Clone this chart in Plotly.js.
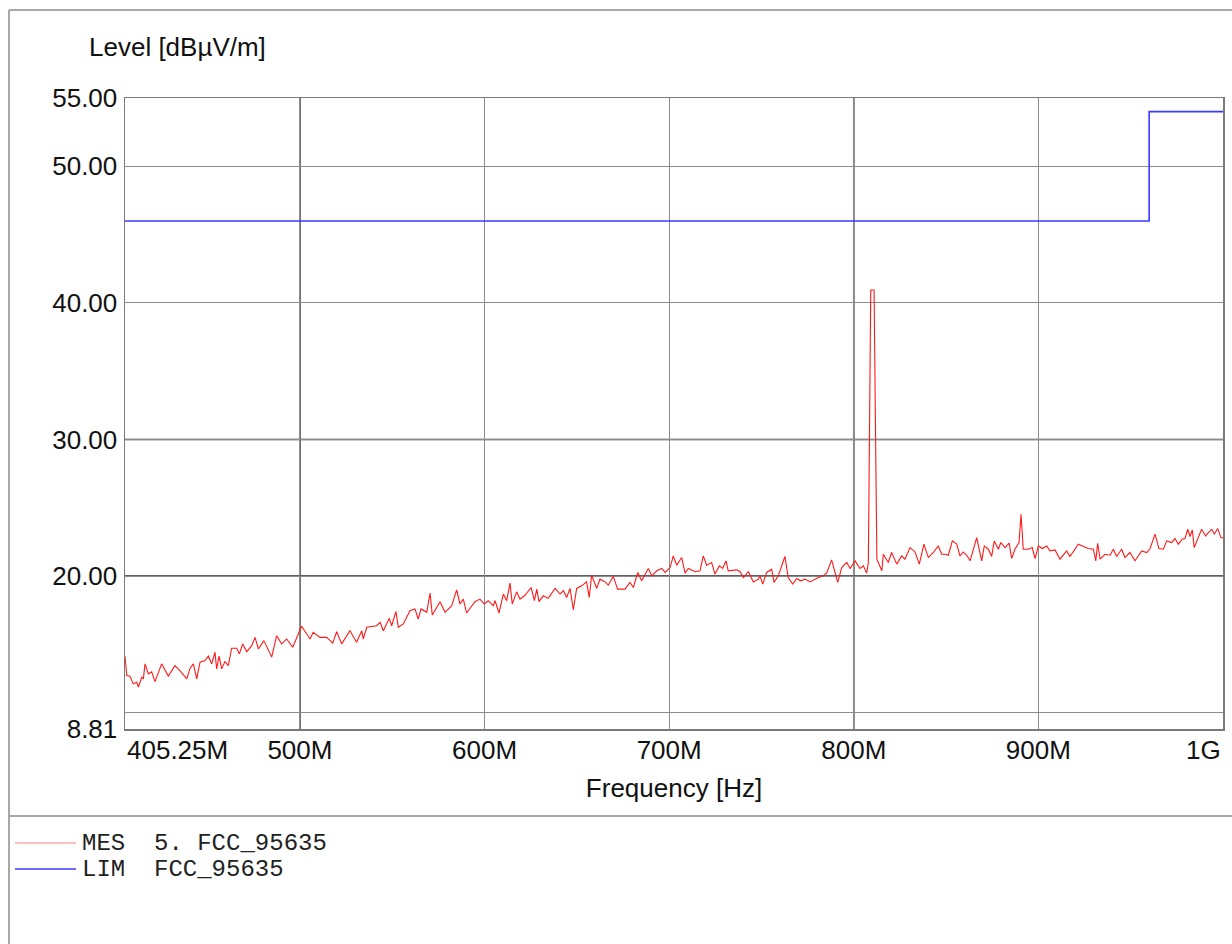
<!DOCTYPE html>
<html>
<head>
<meta charset="utf-8">
<script src="https://cdn.plot.ly/plotly-3.0.1.min.js"></script>
<style>html,body{margin:0;padding:0;background:#fff;}</style>
</head>
<body>
<div id="chart" style="width:1232px;height:944px;"></div>
<script>
// ---- data (frequency in MHz, level in dBµV/m) ----
const mesFreq = [405.25,406.2,407.9,409.7,411.6,412.5,414.3,415.2,416.1,417.9,419.7,421.5,425.1,428.7,432.3,435.0,438.7,440.5,442.3,444.1,445.9,448.6,450.4,452.2,454.0,454.9,456.2,457.6,459.4,461.2,463.0,465.8,467.2,469.0,471.2,473.9,475.7,477.5,480.5,484.7,487.4,490.1,492.8,496.1,500.9,505.5,507.2,510.9,514.5,517.8,519.9,522.6,527.1,530.7,533.5,534.3,536.2,541.6,543.4,545.2,548.4,549.7,552.0,553.3,
556.0,559.6,562.3,564.1,565.6,568.7,570.5,571.7,575.9,578.6,582.2,584.9,586.7,588.5,590.3,594.8,597.5,599.9,602.0,604.7,605.7,607.8,610.2,612.0,613.8,615.0,617.4,619.2,621.9,625.2,627.0,628.3,629.5,631.8,634.5,638.2,640.9,642.7,644.5,646.3,648.1,649.9,652.6,655.3,656.7,658.0,660.8,662.5,665.3,667.0,669.7,672.1,676.1,678.8,680.6,683.0,685.1,688.7,690.6,693.3,696.0,697.8,700.5,702.2,
704.1,706.8,708.6,710.4,714.0,716.7,718.5,720.3,723.0,724.8,727.2,729.0,730.8,732.0,736.6,738.4,740.2,742.9,745.6,748.3,749.2,750.7,752.8,755.5,756.8,759.1,762.7,764.5,766.9,769.1,771.2,773.6,776.3,779.0,780.8,783.5,785.3,788.0,789.8,791.3,793.5,796.2,798.0,800.7,803.4,805.2,807.0,807.9,809.2,811.0,812.5,815.2,816.0,818.7,820.5,823.3,825.9,827.7,830.5,833.2,835.5,838.0,840.4,843.1,845.8,847.6,
849.4,851.2,853.4,855.8,857.5,859.3,861.2,863.0,866.6,869.3,870.7,872.9,874.7,876.1,878.3,879.7,881.9,884.2,885.5,887.3,889.5,890.6,891.8,894.5,896.7,898.2,900.0,902.1,904.5,906.3,909.0,911.7,915.3,917.1,921.6,924.3,927.0,929.8,931.1,932.1,933.4,936.1,938.8,940.6,942.4,945.1,946.9,949.6,952.3,956.0,958.7,960.5,963.2,965.3,967.7,969.5,972.2,974.0,975.8,977.9,979.4,980.9,982.1,983.4,984.4,986.6,988.4,990.6,992.0,993.9,995.3,997.1,998.9,1000.0];
const mesLevel = [14.14,12.72,12.68,12.12,12.24,11.88,12.60,12.48,13.58,12.85,13.00,12.28,13.58,12.68,13.45,13.09,12.48,13.26,13.58,12.48,13.70,13.82,14.14,13.58,14.43,13.21,14.14,13.21,13.75,13.45,14.72,14.72,14.31,15.04,14.47,14.91,15.52,14.67,15.28,14.07,15.64,15.04,15.40,14.80,16.33,15.40,15.89,15.52,15.52,15.10,15.93,15.04,16.00,15.16,16.00,15.40,16.26,16.37,16.62,16.00,16.91,16.37,17.40,16.26,
16.50,17.47,17.60,16.86,17.60,17.35,18.76,17.15,18.13,17.35,17.84,19.00,17.96,18.32,17.30,18.13,18.32,17.96,18.20,17.84,18.20,17.30,18.69,18.20,19.49,17.96,18.85,18.32,18.60,19.17,18.20,19.05,18.13,18.56,18.37,19.10,18.69,18.93,18.44,19.10,17.54,19.10,19.29,19.58,18.44,20.07,19.10,19.78,19.58,19.34,19.98,19.05,19.05,19.54,19.17,20.27,19.66,20.56,20.02,20.39,20.56,20.27,20.63,21.48,
20.80,21.36,20.22,20.56,20.32,20.39,21.48,20.80,21.00,20.15,20.75,20.56,21.12,20.39,20.46,20.32,19.90,20.32,19.58,19.78,20.02,19.42,20.27,20.51,19.54,20.02,21.44,19.90,19.42,19.83,19.66,19.78,19.58,19.78,19.90,20.02,20.22,21.19,20.27,19.54,20.63,21.00,20.56,21.12,20.56,20.75,20.22,21.00,40.95,40.95,21.24,20.39,21.60,21.00,21.73,20.88,21.48,21.24,22.09,21.77,20.88,22.34,21.36,21.73,22.21,21.60,
21.60,21.53,22.58,22.34,21.48,21.77,21.53,21.12,22.82,21.12,22.21,21.97,21.44,22.58,21.97,22.46,22.09,22.41,21.29,21.97,22.46,24.53,21.97,21.97,22.09,21.29,22.21,22.02,22.21,21.85,21.92,21.24,21.85,21.44,22.34,22.17,22.02,21.97,21.12,22.41,21.24,21.60,21.53,21.97,21.44,21.97,21.36,21.73,21.12,21.85,21.73,22.02,23.07,22.02,21.97,22.58,22.46,22.75,22.34,22.70,22.75,23.43,22.90,23.38,22.09,22.82,23.43,22.94,23.19,23.43,23.07,23.48,22.82,22.80];

const limFreq = [405.25, 960, 1000];
const limLevel = [46.0, 54.0, 54.0];

const xTickVals = [405.25, 500, 600, 700, 800, 900, 1000];
const xTickText = ['', '500M', '600M', '700M', '800M', '900M', ''];
const xEdgeLabels = ['405.25M', '1G'];
const yTickVals = [8.81, 10, 20, 30, 40, 50, 55];
const yTickText = ['8.81', '', '20.00', '30.00', '40.00', '50.00', '55.00'];
const darkX = [500, 800];
const darkY = [20, 30];

const mesName = 'MES\u00a0\u00a05.\u00a0FCC_95635';
const limName = 'LIM\u00a0\u00a0FCC_95635';

// ---- layout helpers (pixel -> paper) ----
const W = 1232, H = 944, ML = 125, MR = 9, MT = 98, MB = 215;
const PW = W - ML - MR, PH = H - MT - MB;
const px = x => (x - ML) / PW;
const py = y => (H - MB - y) / PH;

const sans = 'Liberation Sans, Arial, sans-serif';
const mono = 'Liberation Mono, Courier New, monospace';
const FS = 26;

const traces = [
  {x: mesFreq, y: mesLevel, type: 'scatter', mode: 'lines', name: mesName,
   line: {color: '#ff1a1a', width: 1.1}, showlegend: false},
  {x: limFreq, y: limLevel, type: 'scatter', mode: 'lines', name: limName,
   line: {color: '#3a3aff', width: 1.6, shape: 'hv'}, showlegend: false}
];

const shapes = [];
darkX.forEach(v => shapes.push({type: 'line', xref: 'x', yref: 'paper', x0: v, x1: v, y0: 0, y1: 1,
  line: {color: '#3c3c3c', width: 1.6}, layer: 'below'}));
darkY.forEach(v => shapes.push({type: 'line', xref: 'paper', yref: 'y', x0: 0, x1: 1, y0: v, y1: v,
  line: {color: '#2a2a2a', width: 1.6}, layer: 'below'}));
// outer frame + separator
const frameCol = '#a8a8a8';
shapes.push({type: 'line', xref: 'paper', yref: 'paper', x0: px(9), x1: px(1232), y0: py(10), y1: py(10), line: {color: frameCol, width: 2}});
shapes.push({type: 'line', xref: 'paper', yref: 'paper', x0: px(9), x1: px(9), y0: py(10), y1: py(944), line: {color: frameCol, width: 2}});
shapes.push({type: 'line', xref: 'paper', yref: 'paper', x0: px(9), x1: px(1232), y0: py(816), y1: py(816), line: {color: frameCol, width: 2}});
// legend swatches
shapes.push({type: 'line', xref: 'paper', yref: 'paper', x0: px(15), x1: px(76), y0: py(843), y1: py(843), line: {color: '#ff8080', width: 1.2}});
shapes.push({type: 'line', xref: 'paper', yref: 'paper', x0: px(15), x1: px(76), y0: py(869), y1: py(869), line: {color: '#3a3aff', width: 1.6}});

const annotations = [
  {text: 'Level [dBµV/m]', xref: 'paper', yref: 'paper', x: px(87), y: py(47), xanchor: 'left', yanchor: 'middle',
   showarrow: false, font: {family: sans, size: FS, color: '#111'}},
  {text: xEdgeLabels[0], xref: 'x', yref: 'paper', x: xTickVals[0], y: 0, xanchor: 'left', yanchor: 'top', yshift: -4,
   showarrow: false, font: {family: sans, size: FS, color: '#111'}},
  {text: xEdgeLabels[1], xref: 'x', yref: 'paper', x: xTickVals[xTickVals.length - 1], y: 0, xanchor: 'right', yanchor: 'top', yshift: -4,
   showarrow: false, font: {family: sans, size: FS, color: '#111'}},
  {text: mesName, xref: 'paper', yref: 'paper', x: px(80), y: py(843), xanchor: 'left', yanchor: 'middle',
   showarrow: false, font: {family: mono, size: 24, color: '#222'}},
  {text: limName, xref: 'paper', yref: 'paper', x: px(80), y: py(869), xanchor: 'left', yanchor: 'middle',
   showarrow: false, font: {family: mono, size: 24, color: '#222'}}
];

const layout = {
  width: W, height: H,
  margin: {l: ML, r: MR, t: MT, b: MB, pad: 0},
  paper_bgcolor: '#fff', plot_bgcolor: '#fff',
  showlegend: false,
  font: {family: sans, size: FS, color: '#111'},
  xaxis: {
    range: [405.25, 1000], type: 'linear', fixedrange: true,
    tickmode: 'array', tickvals: xTickVals, ticktext: xTickText,
    ticks: '', ticklabelstandoff: -3,
    showgrid: true, gridcolor: '#8c8c8c', gridwidth: 1,
    zeroline: false, showline: true, mirror: true, linecolor: '#7a7a7a', linewidth: 1.5,
    tickfont: {family: sans, size: FS, color: '#111'},
    title: {text: 'Frequency [Hz]', font: {family: sans, size: FS, color: '#111'}, standoff: 15}
  },
  yaxis: {
    range: [8.81, 55], type: 'linear', fixedrange: true,
    tickmode: 'array', tickvals: yTickVals, ticktext: yTickText,
    ticks: '', ticklabelstandoff: 1,
    showgrid: true, gridcolor: '#8c8c8c', gridwidth: 1,
    zeroline: false, showline: true, mirror: true, linecolor: '#7a7a7a', linewidth: 1.5,
    tickfont: {family: sans, size: FS, color: '#111'}
  },
  shapes: shapes,
  annotations: annotations
};

Plotly.newPlot('chart', traces, layout, {displayModeBar: false, staticPlot: true});
</script>
</body>
</html>
